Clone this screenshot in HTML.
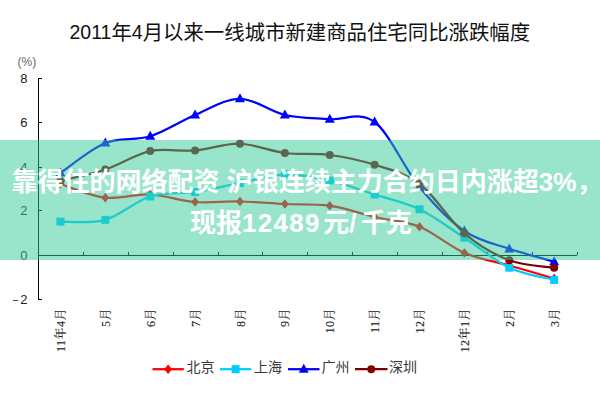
<!DOCTYPE html>
<html><head><meta charset="utf-8">
<style>
html,body{margin:0;padding:0;background:#fff;}
body{width:600px;height:400px;overflow:hidden;position:relative;}
svg{position:absolute;left:0;top:0;}
.title{position:absolute;left:69.5px;top:23px;white-space:nowrap;font:20.4px/1 "Liberation Sans","Noto Sans CJK SC",sans-serif;color:#111;}
.title .d{font-size:19.5px;position:relative;top:-0.6px;}
.yl{font:13px "Liberation Sans",sans-serif;fill:#222;}
.pc{font:12px "Liberation Sans",sans-serif;fill:#666;}
.xl{font:12px "Liberation Serif","Noto Serif CJK SC",serif;fill:#222;stroke:#222;stroke-width:0.1px;letter-spacing:0.5px;}
.lg{font:14px "Liberation Sans","Noto Sans CJK SC",sans-serif;fill:#3a3a3a;}
.band{position:absolute;left:0;top:140px;width:600px;height:120px;background:rgba(51,204,153,0.5);}
.t1,.t2{position:absolute;white-space:nowrap;color:#fff;font:bold 26px/1 "Liberation Sans","Noto Sans CJK SC",sans-serif;}
.t1{left:11.6px;top:169px;}
.t2{left:190px;top:210px;}
.dg{letter-spacing:1.3px;}
.pct{font-weight:normal;-webkit-text-stroke:0.7px #fff;}
</style></head><body>
<div class="title"><span class="d">2011</span>年<span class="d">4</span>月以来一线城市新建商品住宅同比涨跌幅度</div>
<svg width="600" height="400" viewBox="0 0 600 400">
<path d="M38.5,78 V300" stroke="#000" stroke-width="1" fill="none"/>
<path d="M38,78.5 H42" stroke="#000" stroke-width="1"/>
<path d="M38,122.5 H42" stroke="#000" stroke-width="1"/>
<path d="M38,167.5 H42" stroke="#000" stroke-width="1"/>
<path d="M38,210.5 H42" stroke="#000" stroke-width="1"/>
<path d="M38,255.5 H42" stroke="#000" stroke-width="1"/>
<path d="M38,299.5 H42" stroke="#000" stroke-width="1"/>
<path d="M38,255.5 H577" stroke="#000" stroke-width="1"/>
<path d="M83.5,252 V255" stroke="#000" stroke-width="1"/>
<path d="M128.5,252 V255" stroke="#000" stroke-width="1"/>
<path d="M173.5,252 V255" stroke="#000" stroke-width="1"/>
<path d="M218.5,252 V255" stroke="#000" stroke-width="1"/>
<path d="M262.5,252 V255" stroke="#000" stroke-width="1"/>
<path d="M307.5,252 V255" stroke="#000" stroke-width="1"/>
<path d="M352.5,252 V255" stroke="#000" stroke-width="1"/>
<path d="M397.5,252 V255" stroke="#000" stroke-width="1"/>
<path d="M442.5,252 V255" stroke="#000" stroke-width="1"/>
<path d="M487.5,252 V255" stroke="#000" stroke-width="1"/>
<path d="M532.5,252 V255" stroke="#000" stroke-width="1"/>
<path d="M577.5,252 V255" stroke="#000" stroke-width="1"/>
<path d="M60.44,184.00 C67.92,186.28 90.36,195.95 105.33,197.70 C120.29,199.45 135.25,193.78 150.21,194.50 C165.17,195.22 180.13,200.83 195.09,202.00 C210.05,203.17 225.01,201.17 239.97,201.50 C254.94,201.83 269.90,203.30 284.86,204.00 C299.82,204.70 314.78,203.53 329.74,205.70 C344.70,207.87 359.66,213.48 374.62,217.00 C389.59,220.52 404.55,220.82 419.51,226.80 C434.47,232.78 449.43,246.45 464.39,252.90 C479.35,259.35 494.31,261.23 509.27,265.50 C524.24,269.77 546.68,276.33 554.16,278.50" stroke="#ff0000" stroke-width="2.25" fill="none" stroke-linejoin="round"/>
<path d="M60.44,179.30 l4.00,4.70 l-4.00,4.70 l-4.00,-4.70 z" fill="#ff0000"/>
<path d="M105.33,193.00 l4.00,4.70 l-4.00,4.70 l-4.00,-4.70 z" fill="#ff0000"/>
<path d="M150.21,189.80 l4.00,4.70 l-4.00,4.70 l-4.00,-4.70 z" fill="#ff0000"/>
<path d="M195.09,197.30 l4.00,4.70 l-4.00,4.70 l-4.00,-4.70 z" fill="#ff0000"/>
<path d="M239.97,196.80 l4.00,4.70 l-4.00,4.70 l-4.00,-4.70 z" fill="#ff0000"/>
<path d="M284.86,199.30 l4.00,4.70 l-4.00,4.70 l-4.00,-4.70 z" fill="#ff0000"/>
<path d="M329.74,201.00 l4.00,4.70 l-4.00,4.70 l-4.00,-4.70 z" fill="#ff0000"/>
<path d="M374.62,212.30 l4.00,4.70 l-4.00,4.70 l-4.00,-4.70 z" fill="#ff0000"/>
<path d="M419.51,222.10 l4.00,4.70 l-4.00,4.70 l-4.00,-4.70 z" fill="#ff0000"/>
<path d="M464.39,248.20 l4.00,4.70 l-4.00,4.70 l-4.00,-4.70 z" fill="#ff0000"/>
<path d="M509.27,260.80 l4.00,4.70 l-4.00,4.70 l-4.00,-4.70 z" fill="#ff0000"/>
<path d="M554.16,273.80 l4.00,4.70 l-4.00,4.70 l-4.00,-4.70 z" fill="#ff0000"/>
<path d="M60.44,221.60 C67.92,221.30 90.36,223.98 105.33,219.80 C120.29,215.62 135.25,201.13 150.21,196.50 C165.17,191.87 180.13,194.25 195.09,192.00 C210.05,189.75 225.01,185.92 239.97,183.00 C254.94,180.08 269.90,174.92 284.86,174.50 C299.82,174.08 314.78,177.17 329.74,180.50 C344.70,183.83 359.66,189.70 374.62,194.50 C389.59,199.30 404.55,202.10 419.51,209.30 C434.47,216.50 449.43,227.97 464.39,237.70 C479.35,247.43 494.31,260.67 509.27,267.70 C524.24,274.73 546.68,277.87 554.16,279.90" stroke="#00ccff" stroke-width="2.25" fill="none" stroke-linejoin="round"/>
<rect x="56.44" y="217.60" width="8.00" height="8.00" fill="#00ccff"/>
<rect x="101.33" y="215.80" width="8.00" height="8.00" fill="#00ccff"/>
<rect x="146.21" y="192.50" width="8.00" height="8.00" fill="#00ccff"/>
<rect x="191.09" y="188.00" width="8.00" height="8.00" fill="#00ccff"/>
<rect x="235.97" y="179.00" width="8.00" height="8.00" fill="#00ccff"/>
<rect x="280.86" y="170.50" width="8.00" height="8.00" fill="#00ccff"/>
<rect x="325.74" y="176.50" width="8.00" height="8.00" fill="#00ccff"/>
<rect x="370.62" y="190.50" width="8.00" height="8.00" fill="#00ccff"/>
<rect x="415.51" y="205.30" width="8.00" height="8.00" fill="#00ccff"/>
<rect x="460.39" y="233.70" width="8.00" height="8.00" fill="#00ccff"/>
<rect x="505.27" y="263.70" width="8.00" height="8.00" fill="#00ccff"/>
<rect x="550.16" y="275.90" width="8.00" height="8.00" fill="#00ccff"/>
<path d="M60.44,173.00 C67.92,168.00 90.36,149.12 105.33,143.00 C120.29,136.88 135.25,140.92 150.21,136.25 C165.17,131.58 180.13,121.25 195.09,115.00 C210.05,108.75 225.01,98.75 239.97,98.75 C254.94,98.75 269.90,111.58 284.86,115.00 C299.82,118.42 314.78,118.08 329.74,119.25 C344.70,120.42 359.66,110.71 374.62,122.00 C389.59,133.29 404.55,168.83 419.51,187.00 C434.47,205.17 449.43,220.70 464.39,231.00 C479.35,241.30 494.31,243.70 509.27,248.80 C524.24,253.90 546.68,259.47 554.16,261.60" stroke="#0000ff" stroke-width="2.25" fill="none" stroke-linejoin="round"/>
<path d="M60.44,167.60 L65.44,176.60 L55.44,176.60 z" fill="#0000ff"/>
<path d="M105.33,137.60 L110.33,146.60 L100.33,146.60 z" fill="#0000ff"/>
<path d="M150.21,130.85 L155.21,139.85 L145.21,139.85 z" fill="#0000ff"/>
<path d="M195.09,109.60 L200.09,118.60 L190.09,118.60 z" fill="#0000ff"/>
<path d="M239.97,93.35 L244.97,102.35 L234.97,102.35 z" fill="#0000ff"/>
<path d="M284.86,109.60 L289.86,118.60 L279.86,118.60 z" fill="#0000ff"/>
<path d="M329.74,113.85 L334.74,122.85 L324.74,122.85 z" fill="#0000ff"/>
<path d="M374.62,116.60 L379.62,125.60 L369.62,125.60 z" fill="#0000ff"/>
<path d="M419.51,181.60 L424.51,190.60 L414.51,190.60 z" fill="#0000ff"/>
<path d="M464.39,225.60 L469.39,234.60 L459.39,234.60 z" fill="#0000ff"/>
<path d="M509.27,243.40 L514.27,252.40 L504.27,252.40 z" fill="#0000ff"/>
<path d="M554.16,256.20 L559.16,265.20 L549.16,265.20 z" fill="#0000ff"/>
<path d="M60.44,181.00 C67.92,179.08 90.36,174.48 105.33,169.50 C120.29,164.52 135.25,154.27 150.21,151.10 C165.17,147.93 180.13,151.72 195.09,150.50 C210.05,149.28 225.01,143.33 239.97,143.75 C254.94,144.17 269.90,151.12 284.86,153.00 C299.82,154.88 314.78,153.03 329.74,155.00 C344.70,156.97 359.66,160.01 374.62,164.80 C389.59,169.59 404.55,172.33 419.51,183.75 C434.47,195.17 449.43,220.54 464.39,233.30 C479.35,246.06 494.31,254.57 509.27,260.30 C524.24,266.03 546.68,266.47 554.16,267.70" stroke="#800000" stroke-width="2.25" fill="none" stroke-linejoin="round"/>
<circle cx="60.44" cy="181.00" r="4.00" fill="#800000"/>
<circle cx="105.33" cy="169.50" r="4.00" fill="#800000"/>
<circle cx="150.21" cy="151.10" r="4.00" fill="#800000"/>
<circle cx="195.09" cy="150.50" r="4.00" fill="#800000"/>
<circle cx="239.97" cy="143.75" r="4.00" fill="#800000"/>
<circle cx="284.86" cy="153.00" r="4.00" fill="#800000"/>
<circle cx="329.74" cy="155.00" r="4.00" fill="#800000"/>
<circle cx="374.62" cy="164.80" r="4.00" fill="#800000"/>
<circle cx="419.51" cy="183.75" r="4.00" fill="#800000"/>
<circle cx="464.39" cy="233.30" r="4.00" fill="#800000"/>
<circle cx="509.27" cy="260.30" r="4.00" fill="#800000"/>
<circle cx="554.16" cy="267.70" r="4.00" fill="#800000"/>
<text x="27.5" y="83.3" text-anchor="end" class="yl">8</text>
<text x="27.5" y="127.3" text-anchor="end" class="yl">6</text>
<text x="27.5" y="172.3" text-anchor="end" class="yl">4</text>
<text x="27.5" y="215.3" text-anchor="end" class="yl">2</text>
<text x="27.5" y="260.3" text-anchor="end" class="yl">0</text>
<text x="27.5" y="304.3" text-anchor="end" class="yl"><tspan style="font-size:11px">−</tspan><tspan dx="1.5">2</tspan></text>
<text x="17.5" y="66" class="pc">(%)</text>
<text transform="translate(64.9,308) rotate(-90)" text-anchor="end" class="xl">11年4月</text>
<text transform="translate(109.8,308) rotate(-90)" text-anchor="end" class="xl">5月</text>
<text transform="translate(154.7,308) rotate(-90)" text-anchor="end" class="xl">6月</text>
<text transform="translate(199.6,308) rotate(-90)" text-anchor="end" class="xl">7月</text>
<text transform="translate(244.5,308) rotate(-90)" text-anchor="end" class="xl">8月</text>
<text transform="translate(289.4,308) rotate(-90)" text-anchor="end" class="xl">9月</text>
<text transform="translate(334.2,308) rotate(-90)" text-anchor="end" class="xl">10月</text>
<text transform="translate(379.1,308) rotate(-90)" text-anchor="end" class="xl">11月</text>
<text transform="translate(424.0,308) rotate(-90)" text-anchor="end" class="xl">12月</text>
<text transform="translate(468.9,308) rotate(-90)" text-anchor="end" class="xl">12年1月</text>
<text transform="translate(513.8,308) rotate(-90)" text-anchor="end" class="xl">2月</text>
<text transform="translate(558.7,308) rotate(-90)" text-anchor="end" class="xl">3月</text>
<path d="M152.5,369.2 H183.8" stroke="#ff0000" stroke-width="2.25"/>
<path d="M168.12,364.50 l4.00,4.70 l-4.00,4.70 l-4.00,-4.70 z" fill="#ff0000"/>
<text x="186.5" y="371.8" class="lg">北京</text>
<path d="M220.0,369.2 H251.2" stroke="#00ccff" stroke-width="2.25"/>
<rect x="231.62" y="365.20" width="8.00" height="8.00" fill="#00ccff"/>
<text x="254.0" y="371.8" class="lg">上海</text>
<path d="M288.0,369.2 H319.5" stroke="#0000ff" stroke-width="2.25"/>
<path d="M303.75,363.80 L308.75,372.80 L298.75,372.80 z" fill="#0000ff"/>
<text x="321.5" y="371.8" class="lg">广州</text>
<path d="M355.0,369.2 H387.5" stroke="#800000" stroke-width="2.25"/>
<circle cx="371.25" cy="369.20" r="4.00" fill="#800000"/>
<text x="389.0" y="371.8" class="lg">深圳</text>
</svg>
<div class="band"></div>
<div class="t1">靠得住的网络配资 沪银连续主力合约日内涨超3<span class="pct">%</span>，</div>
<div class="t2">现报<span class="dg">12489</span><span style="margin-left:2.5px">元</span>/<span style="margin-left:4.5px;letter-spacing:-1px">千</span>克</div>
</body></html>
